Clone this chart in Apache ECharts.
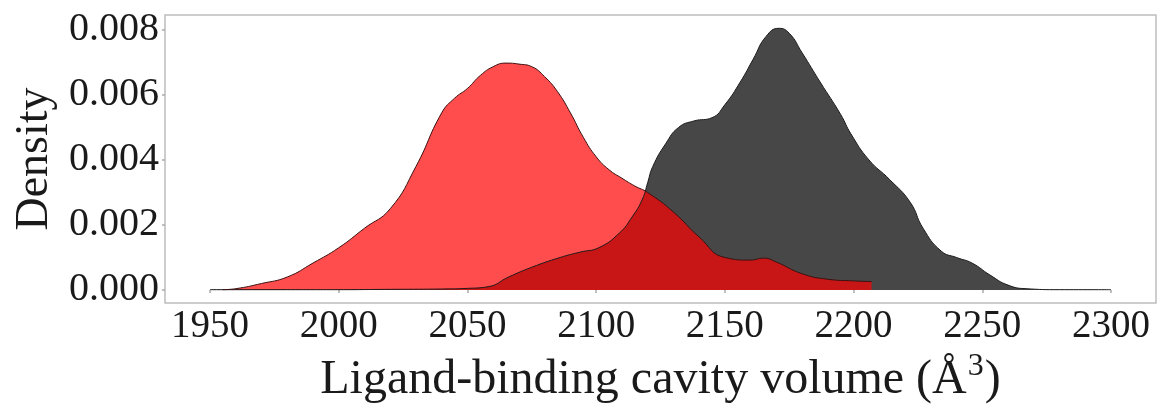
<!DOCTYPE html>
<html>
<head>
<meta charset="utf-8">
<script src="https://cdn.jsdelivr.net/npm/echarts@6/dist/echarts.min.js"></script>
<style>
html,body{margin:0;padding:0;background:#fff;}
#chart{width:1163px;height:406px;}
</style>
</head>
<body>
<div id="chart"></div>
<script>
// Tick values
var xTicks = [1950, 2000, 2050, 2100, 2150, 2200, 2250, 2300];
var yTicks = [0, 0.002, 0.004, 0.006, 0.008];

// Dark (grey) group density
var greyVolume  = [1950, 1980, 2000, 2020, 2040, 2050, 2058, 2066, 2075, 2086, 2094, 2101, 2109, 2114, 2118, 2120, 2122, 2127, 2132, 2138, 2145, 2150, 2156, 2161, 2166, 2171, 2175, 2180, 2187, 2195, 2199, 2206, 2214, 2222, 2227, 2234, 2240, 2246, 2253, 2260, 2267, 2280, 2300];
var greyDensity = [0.00001, 0.00001, 0.00001, 0.00002, 0.00003, 0.00005, 0.0001, 0.0004, 0.0007, 0.001, 0.00117, 0.0013, 0.00175, 0.00225, 0.0028, 0.0033, 0.0038, 0.0045, 0.0050, 0.0052, 0.0053, 0.0057, 0.0064, 0.0071, 0.0078, 0.00805, 0.0079, 0.0073, 0.0064, 0.0054, 0.0048, 0.0040, 0.0034, 0.0027, 0.0019, 0.0012, 0.0010, 0.00083, 0.00046, 0.00015, 0.00004, 0.00001, 0.00001];

// Red group density
var redVolume  = [1955, 1960, 1970, 1980, 1990, 2000, 2010, 2020, 2030, 2040, 2045, 2050, 2055, 2060, 2065, 2070, 2075, 2080, 2085, 2090, 2095, 2100, 2105, 2110, 2115, 2120, 2130, 2140, 2150, 2160, 2165, 2170, 2180, 2190, 2200, 2207];
var redDensity = [0.00001, 0.00004, 0.0002, 0.0004, 0.00083, 0.0013, 0.0019, 0.0025, 0.0038, 0.00545, 0.0059, 0.0062, 0.0066, 0.00687, 0.00698, 0.00695, 0.00687, 0.00656, 0.0061, 0.00545, 0.0047, 0.0041, 0.0037, 0.00344, 0.0032, 0.0030, 0.0024, 0.00163, 0.0010, 0.00092, 0.00098, 0.00086, 0.00050, 0.00033, 0.00028, 0.00026];

function zip(a, b) { return a.map(function (v, i) { return [v, b[i]]; }); }

var font = '"Liberation Serif", "DejaVu Serif", serif';
var chart = echarts.init(document.getElementById('chart'), null, {renderer: 'canvas'});
chart.setOption({
  animation: false,
  grid: {left: 165, right: 7, top: 15, bottom: 103, containLabel: false, outerBoundsMode: 'none',
    show: true, borderColor: '#bdbdbd', borderWidth: 1.5, backgroundColor: 'transparent'},
  xAxis: {
    type: 'value', min: 1932.5, max: 2317.5,
    name: '{a|Ligand-binding cavity volume (Å}{s|3}{a|)}',
    nameLocation: 'middle', nameGap: 22,
    nameTextStyle: {fontFamily: font, fontSize: 48, color: '#1a1a1a',
      rich: {
        a: {fontFamily: font, fontSize: 48, color: '#1a1a1a', verticalAlign: 'bottom'},
        s: {fontFamily: font, fontSize: 32, color: '#1a1a1a', verticalAlign: 'bottom', padding: [0, 1, 21, 1]}
      }},
    axisLine: {show: false},
    splitLine: {show: false},
    axisTick: {show: true, length: 3, lineStyle: {color: '#aaaaaa', width: 1.5}, customValues: xTicks},
    axisLabel: {fontFamily: font, fontSize: 39, color: '#1a1a1a', margin: 4, customValues: xTicks,
      formatter: function (v) { return String(v); }}
  },
  yAxis: {
    type: 'value', min: -0.0004, max: 0.00846,
    name: 'Density', nameLocation: 'middle', nameGap: 101, nameRotate: 90,
    nameTextStyle: {fontFamily: font, fontSize: 46, color: '#1a1a1a'},
    axisLine: {show: false},
    splitLine: {show: false},
    axisTick: {show: true, length: 3, lineStyle: {color: '#aaaaaa', width: 1.5}, customValues: yTicks},
    axisLabel: {fontFamily: font, fontSize: 40, color: '#1a1a1a', margin: 6, customValues: yTicks,
      formatter: function (v) { return v.toFixed(3); }}
  },
  series: [
    {
      type: 'line', data: zip(greyVolume, greyDensity), showSymbol: false, smooth: 0.5,
      lineStyle: {color: '#1a1a1a', width: 1},
      areaStyle: {color: 'rgba(0,0,0,0.72)', opacity: 1, origin: 0}
    },
    {
      type: 'line', data: zip(redVolume, redDensity), showSymbol: false, smooth: 0.5,
      lineStyle: {color: '#3a1010', width: 1},
      areaStyle: {color: 'rgba(255,0,0,0.7)', opacity: 1, origin: 0}
    }
  ]
});
</script>
</body>
</html>
